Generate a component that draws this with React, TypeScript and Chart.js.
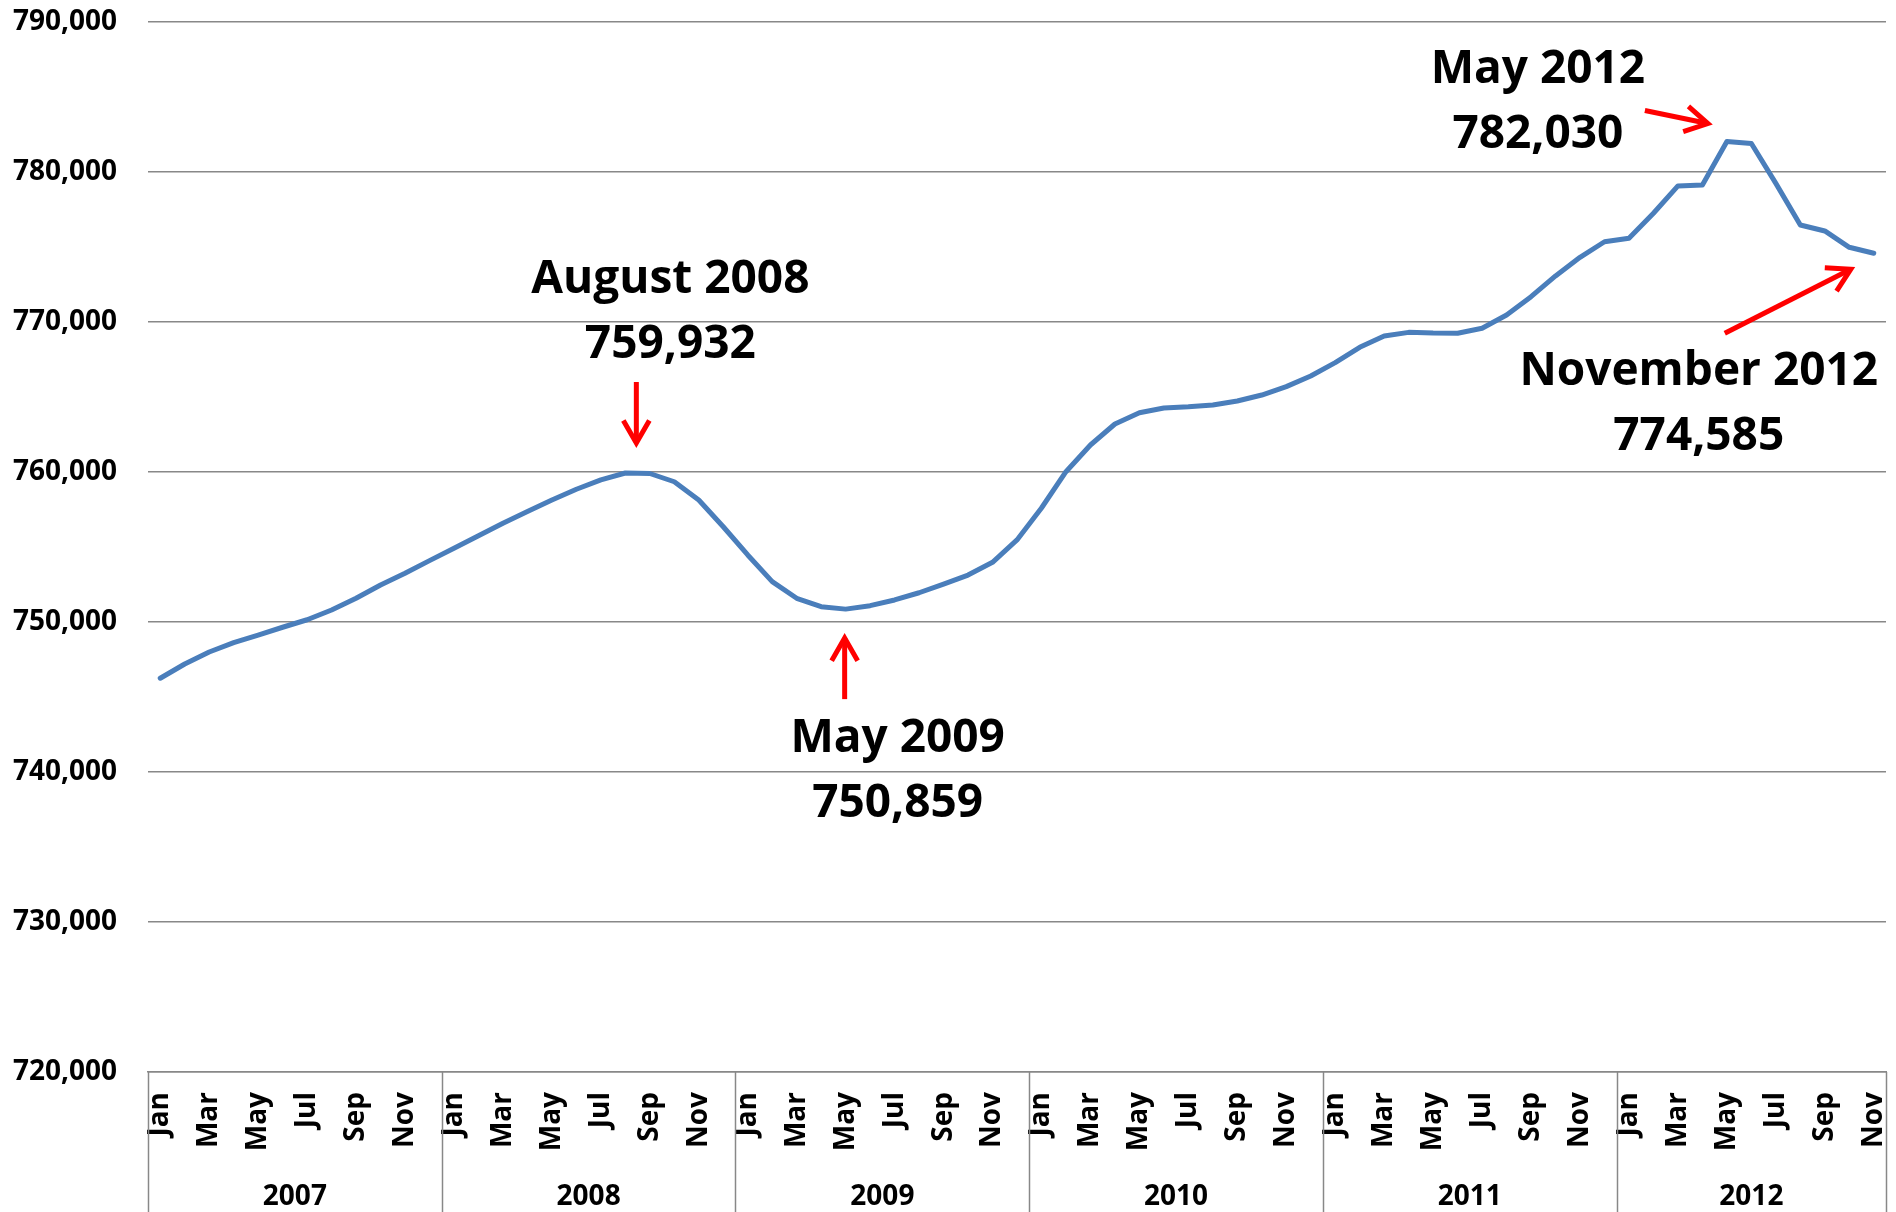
import { useEffect, useRef } from "react";
import { Chart, registerables } from "chart.js";

Chart.register(...registerables);

// ---- Data ----
const monthNames = ["Jan", "Feb", "Mar", "Apr", "May", "Jun", "Jul", "Aug", "Sep", "Oct", "Nov", "Dec"];
const years = ["2007", "2008", "2009", "2010", "2011", "2012"];
const monthsPerYear = [12, 12, 12, 12, 12, 11];

const values2007 = [746250, 747200, 748000, 748620, 749130, 749650, 750150, 750800, 751580, 752470, 753250, 754090];
const values2008 = [754910, 755750, 756580, 757360, 758130, 758850, 759470, 759932, 759900, 759350, 758130, 756350];
const values2009 = [754470, 752690, 751580, 751020, 750859, 751090, 751470, 751950, 752530, 753130, 753980, 755470];
const values2010 = [757600, 760020, 761800, 763200, 763950, 764270, 764350, 764470, 764730, 765130, 765690, 766400];
const values2011 = [767290, 768310, 769070, 769310, 769260, 769250, 769580, 770470, 771690, 773070, 774310, 775350];
const values2012 = [775580, 777250, 779070, 779130, 782030, 781900, 779240, 776470, 776070, 774980, 774585];

const yMin = 720000;
const yMax = 790000;
const yStep = 10000;

const annotationIndex = [19, 28, 64, 70];
const annotationTitles = ["August 2008", "May 2009", "May 2012", "November 2012"];
const annotationValues = ["759,932", "750,859", "782,030", "774,585"];

// ---- Derived ----
const allValues = [...values2007, ...values2008, ...values2009, ...values2010, ...values2011, ...values2012];
const labels: string[] = [];
years.forEach((yr, yi) => {
  for (let m = 0; m < monthsPerYear[yi]; m++) labels.push(`${monthNames[m]} ${yr}`);
});

// ---- Layout / style (offsets relative to the annotated point) ----
const FONT = '"Open Sans", "DejaVu Sans", sans-serif';
const annotLayout = [
  { tx: 45, b1: -180, b2: -115, a: [11, -91, 11, -30] },
  { tx: 52, b1: 143, b2: 208, a: [-1, 90, -1, 29] },
  { tx: -189, b1: -59, b2: 6, a: [-82, -31, -19, -18] },
  { tx: -175, b1: 132, b2: 197, a: [-149, 80, -23, 16] },
];

function drawArrow(ctx: CanvasRenderingContext2D, x1: number, y1: number, x2: number, y2: number) {
  const ang = Math.atan2(y2 - y1, x2 - x1);
  const head = 26;
  const spread = Math.PI / 6;
  ctx.beginPath();
  ctx.moveTo(x1, y1);
  ctx.lineTo(x2, y2);
  ctx.stroke();
  ctx.beginPath();
  ctx.moveTo(x2 - head * Math.cos(ang - spread), y2 - head * Math.sin(ang - spread));
  ctx.lineTo(x2, y2);
  ctx.lineTo(x2 - head * Math.cos(ang + spread), y2 - head * Math.sin(ang + spread));
  ctx.stroke();
}

const decorPlugin = {
  id: "decor",
  afterDraw(chart: any) {
    const ctx: CanvasRenderingContext2D = chart.ctx;
    const xs = chart.scales.x;
    const ys = chart.scales.y;
    const bottom = chart.height;
    ctx.save();

    // year group separators
    const bounds = [0];
    monthsPerYear.forEach((n) => bounds.push(bounds[bounds.length - 1] + n));
    ctx.strokeStyle = "#888888";
    ctx.lineWidth = 1.5;
    bounds.forEach((b) => {
      const px = Math.round(xs.getPixelForValue(b - 0.5)) + 0.5;
      ctx.beginPath();
      ctx.moveTo(px, xs.top);
      ctx.lineTo(px, bottom);
      ctx.stroke();
    });

    // year labels
    ctx.fillStyle = "#000";
    ctx.font = `bold 28px ${FONT}`;
    ctx.textAlign = "center";
    ctx.textBaseline = "alphabetic";
    years.forEach((yr, i) => {
      const a = xs.getPixelForValue(bounds[i] - 0.5);
      const b = xs.getPixelForValue(bounds[i + 1] - 0.5);
      ctx.fillText(yr, (a + b) / 2, xs.top + 133);
    });

    // annotations
    annotationIndex.forEach((idx, k) => {
      const px = xs.getPixelForValue(idx);
      const py = ys.getPixelForValue(allValues[idx]);
      const L = annotLayout[k];
      ctx.fillStyle = "#000";
      ctx.font = `bold 46px ${FONT}`;
      ctx.textAlign = "center";
      ctx.textBaseline = "alphabetic";
      ctx.fillText(annotationTitles[k], px + L.tx, py + L.b1);
      ctx.fillText(annotationValues[k], px + L.tx, py + L.b2);
      ctx.strokeStyle = "#FF0000";
      ctx.lineWidth = 5;
      ctx.lineCap = "butt";
      ctx.lineJoin = "miter";
      drawArrow(ctx, px + L.a[0], py + L.a[1], px + L.a[2], py + L.a[3]);
    });

    ctx.restore();
  },
};

export default function App() {
  const canvasRef = useRef<HTMLCanvasElement | null>(null);

  useEffect(() => {
    document.body.style.margin = "0";
    const canvas = canvasRef.current;
    if (!canvas) return;
    const chart = new Chart(canvas, {
      type: "line",
      data: {
        labels,
        datasets: [
          {
            data: allValues,
            borderColor: "#4A7EBB",
            borderWidth: 5,
            pointRadius: 0,
            tension: 0,
            fill: false,
            borderJoinStyle: "round",
            borderCapStyle: "round",
          },
        ],
      },
      options: {
        responsive: false,
        animation: false,
        devicePixelRatio: 1,
        layout: { padding: { top: 22, right: 10, left: 0, bottom: 0 } },
        plugins: { legend: { display: false }, tooltip: { enabled: false } },
        scales: {
          x: {
            type: "category",
            offset: true,
            grid: { display: false, drawTicks: false },
            border: { display: true, color: "#888888", width: 1.5 },
            ticks: {
              autoSkip: false,
              minRotation: 90,
              maxRotation: 90,
              padding: 20,
              color: "#000",
              font: { family: FONT, weight: "bold", size: 28 },
              callback: (_v: any, i: number) => (i % 2 === 0 ? monthNames[i % 12] : ""),
            },
            afterFit: (s: any) => {
              s.height = 140;
              s.paddingLeft = 0;
              s.paddingRight = 0;
              s.paddingTop = 0;
              s.paddingBottom = 0;
            },
          },
          y: {
            min: yMin,
            max: yMax,
            grid: { color: "#888888", lineWidth: 1.5, drawTicks: false },
            border: { display: false },
            ticks: {
              stepSize: yStep,
              padding: 31,
              color: "#000",
              font: { family: FONT, weight: "bold", size: 28 },
              callback: (v: any) => Number(v).toLocaleString("en-US"),
            },
            afterFit: (s: any) => {
              s.width = 148;
              s.paddingLeft = 0;
              s.paddingRight = 0;
              s.paddingTop = 0;
              s.paddingBottom = 0;
            },
          },
        },
      },
      plugins: [decorPlugin],
    } as any);
    return () => chart.destroy();
  }, []);

  return (
    <div style={{ width: 1896, height: 1212, position: "relative" }}>
      <canvas ref={canvasRef} width={1896} height={1212} style={{ display: "block", width: 1896, height: 1212 }} />
    </div>
  );
}
